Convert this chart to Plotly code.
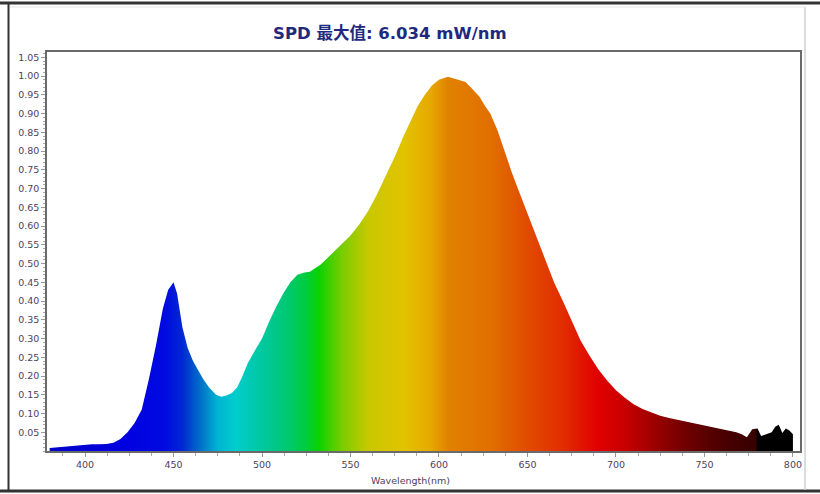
import plotly.graph_objects as go

# ---- data ----
wavelength = [380, 384, 388, 392, 396, 400, 404, 408, 412, 416, 420, 424, 428, 432, 436,
              440, 444, 447, 450, 452, 455, 458, 461, 464, 467, 470, 474, 477, 480, 483,
              486, 489, 492, 495, 500, 504, 508, 512, 516, 520, 524, 527, 530, 533, 536,
              540, 545, 550, 555, 560, 565, 570, 575, 580, 584, 588, 592, 596, 600, 603,
              605, 608, 611, 615, 619, 623, 626, 629, 633, 637, 641, 645, 650, 655, 660,
              665, 670, 675, 680, 685, 690, 695, 700, 705, 710, 715, 720, 725, 730, 735,
              740, 745, 750, 755, 760, 764, 768, 771, 774, 777, 780, 782, 785, 788, 790,
              792, 794, 796, 798, 800]
spd = [0.008, 0.010, 0.012, 0.014, 0.015, 0.017, 0.018, 0.018, 0.019, 0.022, 0.032, 0.050,
       0.075, 0.110, 0.190, 0.280, 0.380, 0.430, 0.450, 0.420, 0.330, 0.275, 0.240, 0.215,
       0.190, 0.170, 0.150, 0.145, 0.148, 0.155, 0.170, 0.200, 0.235, 0.260, 0.300, 0.345,
       0.385, 0.420, 0.450, 0.470, 0.476, 0.478, 0.487, 0.497, 0.510, 0.528, 0.550, 0.575,
       0.605, 0.640, 0.685, 0.735, 0.785, 0.840, 0.880, 0.920, 0.950, 0.975, 0.990, 0.995,
       0.998, 0.994, 0.990, 0.984, 0.965, 0.944, 0.920, 0.900, 0.856, 0.800, 0.745, 0.695,
       0.635, 0.570, 0.510, 0.450, 0.400, 0.345, 0.295, 0.255, 0.218, 0.188, 0.162, 0.142,
       0.125, 0.112, 0.102, 0.094, 0.088, 0.083, 0.078, 0.073, 0.068, 0.062, 0.058, 0.055,
       0.050, 0.045, 0.037, 0.058, 0.060, 0.040, 0.045, 0.050, 0.065, 0.070, 0.048, 0.060,
       0.055, 0.045]

x_ticks = [400, 450, 500, 550, 600, 650, 700, 750, 800]
y_ticks = [0.05, 0.10, 0.15, 0.20, 0.25, 0.30, 0.35, 0.40, 0.45, 0.50, 0.55,
           0.60, 0.65, 0.70, 0.75, 0.80, 0.85, 0.90, 0.95, 1.00, 1.05]
title_text = "SPD 最大值: 6.034 mW/nm"
x_title = "Wavelength(nm)"

# ---- spectral colour stops (style) ----
color_stops = [
    (380, "rgb(0,0,200)"), (420, "rgb(0,0,225)"), (445, "rgb(0,10,225)"),
    (455, "rgb(0,40,210)"), (465, "rgb(0,110,200)"), (475, "rgb(0,180,210)"),
    (485, "rgb(0,205,205)"), (500, "rgb(0,200,160)"), (515, "rgb(0,200,110)"),
    (525, "rgb(0,205,60)"), (532, "rgb(10,210,0)"), (545, "rgb(120,205,0)"),
    (560, "rgb(200,200,0)"), (580, "rgb(225,195,0)"), (595, "rgb(230,170,0)"),
    (605, "rgb(225,130,0)"), (630, "rgb(225,110,0)"), (650, "rgb(225,75,0)"),
    (670, "rgb(225,45,0)"), (690, "rgb(225,0,0)"), (705, "rgb(200,0,0)"),
    (720, "rgb(160,0,0)"), (740, "rgb(110,0,0)"), (760, "rgb(75,0,0)"),
    (779, "rgb(55,0,0)"), (780, "rgb(0,0,0)"), (800, "rgb(0,0,0)"),
]
wl0, wl1 = 380, 800
colorscale = [[(w - wl0) / (wl1 - wl0), c] for w, c in color_stops]

fig = go.Figure()
fig.add_trace(go.Scatter(
    x=wavelength, y=spd, mode="lines", line=dict(width=0),
    fill="tozeroy",
    fillgradient=dict(type="horizontal", colorscale=colorscale, start=wl0, stop=wl1),
    hoverinfo="skip", showlegend=False,
))

tick_font = dict(family="DejaVu Sans", size=9.5, color="#4e3f5c")

# plot area in pixels: x 47..800, y 52..451
L, R, T, B = 47, 20, 52, 43
W, H = 820, 494
pw, ph = W - L - R, H - T - B

def px(x):
    return (x - L) / pw

def py(y):
    return (H - B - y) / ph

fig.update_layout(
    width=W, height=H,
    margin=dict(l=L, r=R, t=T, b=B, autoexpand=False),
    paper_bgcolor="white", plot_bgcolor="white",
    title=dict(text="<b>" + title_text + "</b>", x=px(405), xanchor="center",
               y=1 - 33 / H, yanchor="middle",
               font=dict(family="DejaVu Sans, Noto Sans CJK SC", size=16.5, color="#1e2a7e")),
    xaxis=dict(range=[378.5, 804], tickvals=x_ticks, ticks="outside", ticklen=4,
               tickcolor="#999", tickfont=tick_font, showgrid=False, zeroline=False,
               showline=True, linecolor="#6a6a6a", linewidth=1.5, mirror=True,
               minor=dict(ticks="outside", tick0=400, dtick=12.5, ticklen=3, tickcolor="#aaa")),
    yaxis=dict(range=[0, 1.064], tickvals=y_ticks, tickformat=".2f", ticks="outside",
               ticklen=4, tickcolor="#999", tickfont=tick_font, showgrid=False,
               zeroline=False, showline=True, linecolor="#6a6a6a", linewidth=1.5,
               mirror=True,
               minor=dict(ticks="outside", dtick=0.01, ticklen=2, tickcolor="#aaa")),
    annotations=[dict(text=x_title, x=px(410), y=py(480), xref="paper", yref="paper",
                      xanchor="center", yanchor="middle", showarrow=False,
                      font=tick_font)],
    shapes=[
        # outer frame
        dict(type="line", xref="paper", yref="paper", x0=px(0), x1=px(820), y0=py(3), y1=py(3),
             line=dict(color="#333", width=3)),
        dict(type="line", xref="paper", yref="paper", x0=px(0), x1=px(820), y0=py(491), y1=py(491),
             line=dict(color="#333", width=3)),
        dict(type="line", xref="paper", yref="paper", x0=px(8.5), x1=px(8.5), y0=py(3), y1=py(491),
             line=dict(color="#333", width=2)),
        dict(type="line", xref="paper", yref="paper", x0=px(805), x1=px(805), y0=py(7), y1=py(490),
             line=dict(color="#d0d0d0", width=1.5)),
        dict(type="line", xref="paper", yref="paper", x0=px(10), x1=px(805), y0=py(7), y1=py(7),
             line=dict(color="#e4e4e4", width=1)),
    ],
)

fig.write_html("out.html", config={"displayModeBar": False},
               post_script="document.body.style.margin='0';")
